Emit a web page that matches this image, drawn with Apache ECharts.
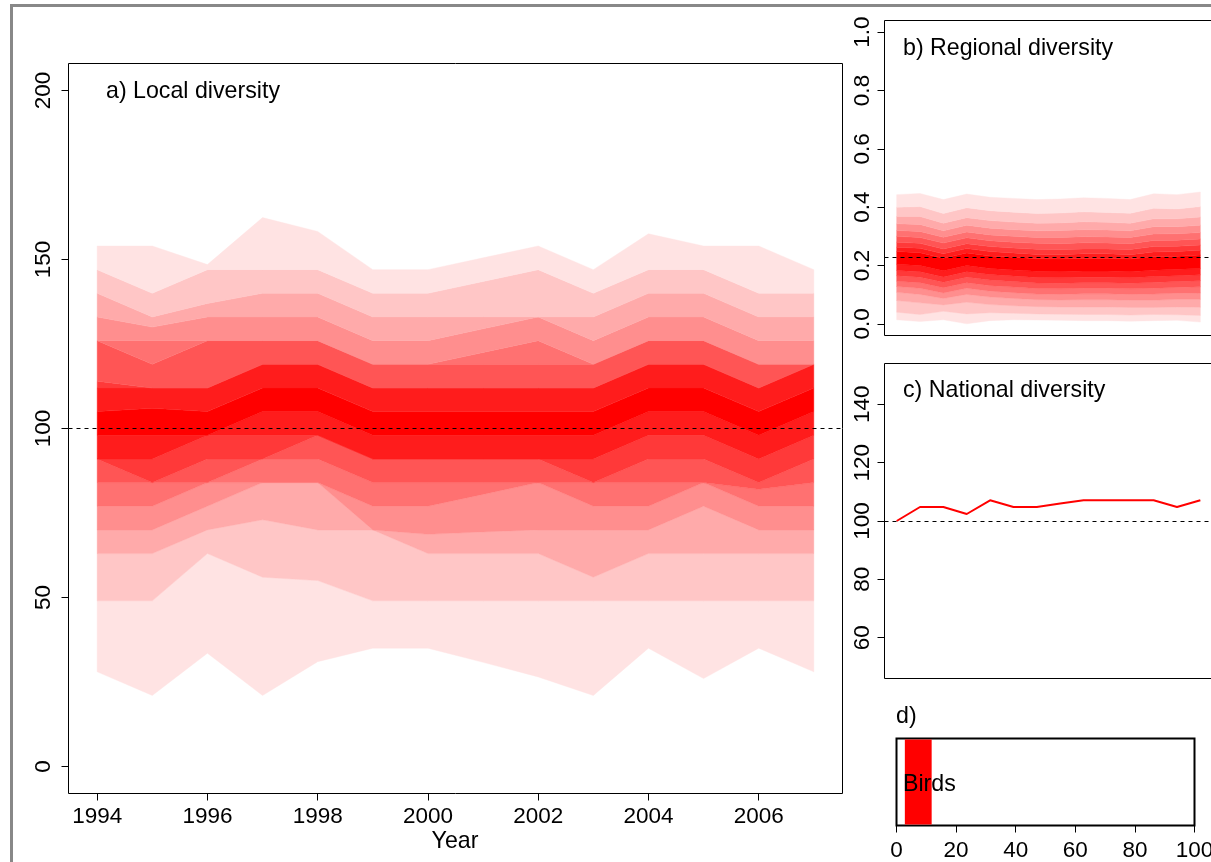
<!DOCTYPE html>
<html><head><meta charset="utf-8">
<script src="https://cdn.jsdelivr.net/npm/echarts@6/dist/echarts.min.js"></script>
<style>html,body{margin:0;padding:0;background:#fff}#c{width:1211px;height:862px}</style>
</head><body><div id="c"></div>
<script>
const years = [1994,1995,1996,1997,1998,1999,2000,2001,2002,2003,2004,2005,2006,2007];

// a) Local diversity: quantile lines from lowest (q01) to highest (q18)
const local_q01 = [28, 21, 33.5, 21, 31, 35, 35, 30.8, 26.5, 21, 35, 26, 35, 28];
const local_q02 = [49, 49, 63, 56, 55, 49, 49, 49, 49, 49, 49, 49, 49, 49];
const local_q03 = [63, 63, 70, 73, 70, 70, 63, 63, 63, 56, 63, 63, 63, 63];
const local_q04 = [70, 70, 77, 84, 84, 70, 68.7, 69.4, 70, 70, 70, 77, 70, 70];
const local_q05 = [77, 77, 84, 84, 84, 77, 77, 80.5, 84, 77, 77, 84, 77, 77];
const local_q06 = [84, 84, 84, 91, 91, 84, 84, 84, 84, 84, 84, 84, 82, 84];
const local_q07 = [91, 84, 91, 91, 98, 91, 91, 91, 91, 84, 91, 91, 84, 91];
const local_q08 = [91, 91, 98, 98, 98, 91, 91, 91, 91, 91, 98, 98, 91, 98];
const local_q09 = [98, 98, 98, 105, 105, 98, 98, 98, 98, 98, 105, 105, 98, 105];
const local_q10 = [105, 106, 105, 112, 112, 105, 105, 105, 105, 105, 112, 112, 105, 112];
const local_q11 = [112, 112, 112, 119, 119, 112, 112, 112, 112, 112, 119, 119, 112, 119];
const local_q12 = [114, 112, 112, 119, 119, 112, 112, 112, 112, 112, 119, 119, 112, 119];
const local_q13 = [126, 119, 126, 126, 126, 119, 119, 119, 119, 119, 126, 126, 119, 119];
const local_q14 = [126, 126, 126, 126, 126, 119, 119, 122.5, 126, 119, 126, 126, 119, 119];
const local_q15 = [133, 130, 133, 133, 133, 126, 126, 129.5, 133, 126, 133, 133, 126, 126];
const local_q16 = [140, 133, 137, 140, 140, 133, 133, 133, 133, 133, 140, 140, 133, 133];
const local_q17 = [147, 140, 147, 147, 147, 140, 140, 143.5, 147, 140, 147, 147, 140, 140];
const local_q18 = [154, 154, 148.5, 162.4, 158.3, 147, 147, 150.5, 154, 147, 157.6, 154, 154, 147];

// b) Regional diversity quantile lines
const reg_q01 = [0.014, 0.008, 0.014, 0.000, 0.011, 0.014, 0.013, 0.012, 0.011, 0.011, 0.009, 0.011, 0.012, 0.006];
const reg_q02 = [0.040, 0.032, 0.043, 0.034, 0.038, 0.036, 0.034, 0.033, 0.032, 0.032, 0.030, 0.032, 0.031, 0.029];
const reg_q03 = [0.080, 0.072, 0.065, 0.074, 0.066, 0.062, 0.059, 0.058, 0.058, 0.058, 0.056, 0.056, 0.058, 0.057];
const reg_q04 = [0.108, 0.101, 0.087, 0.101, 0.092, 0.087, 0.083, 0.082, 0.083, 0.083, 0.081, 0.081, 0.084, 0.084];
const reg_q05 = [0.128, 0.122, 0.106, 0.122, 0.112, 0.107, 0.102, 0.101, 0.103, 0.103, 0.101, 0.102, 0.105, 0.106];
const reg_q06 = [0.146, 0.141, 0.124, 0.141, 0.131, 0.126, 0.121, 0.120, 0.122, 0.122, 0.120, 0.122, 0.125, 0.127];
const reg_q07 = [0.165, 0.160, 0.143, 0.160, 0.150, 0.145, 0.140, 0.139, 0.141, 0.141, 0.139, 0.142, 0.145, 0.148];
const reg_q08 = [0.183, 0.179, 0.161, 0.179, 0.169, 0.164, 0.159, 0.158, 0.160, 0.160, 0.158, 0.162, 0.165, 0.168];
const reg_q09 = [0.204, 0.200, 0.182, 0.200, 0.190, 0.185, 0.180, 0.179, 0.181, 0.181, 0.179, 0.184, 0.187, 0.190];
const reg_q10 = [0.248, 0.244, 0.225, 0.243, 0.233, 0.228, 0.223, 0.222, 0.224, 0.224, 0.222, 0.230, 0.232, 0.236];
const reg_q11 = [0.263, 0.259, 0.240, 0.258, 0.248, 0.243, 0.238, 0.237, 0.240, 0.240, 0.237, 0.246, 0.248, 0.252];
const reg_q12 = [0.280, 0.276, 0.257, 0.275, 0.265, 0.260, 0.256, 0.255, 0.257, 0.257, 0.255, 0.265, 0.266, 0.270];
const reg_q13 = [0.300, 0.296, 0.277, 0.295, 0.285, 0.280, 0.276, 0.275, 0.278, 0.277, 0.275, 0.286, 0.287, 0.291];
const reg_q14 = [0.320, 0.317, 0.297, 0.315, 0.305, 0.300, 0.296, 0.296, 0.299, 0.298, 0.296, 0.308, 0.309, 0.313];
const reg_q15 = [0.343, 0.341, 0.319, 0.338, 0.328, 0.323, 0.319, 0.320, 0.323, 0.322, 0.319, 0.333, 0.333, 0.338];
const reg_q16 = [0.368, 0.368, 0.345, 0.364, 0.354, 0.349, 0.345, 0.346, 0.350, 0.348, 0.345, 0.360, 0.360, 0.366];
const reg_q17 = [0.400, 0.402, 0.378, 0.398, 0.388, 0.383, 0.378, 0.380, 0.384, 0.382, 0.379, 0.396, 0.394, 0.402];
const reg_q18 = [0.443, 0.447, 0.426, 0.445, 0.434, 0.430, 0.426, 0.428, 0.432, 0.430, 0.426, 0.446, 0.443, 0.452];

// c) National diversity
const nationalIndex = [100, 104.8, 104.8, 102.4, 107.1, 104.8, 104.8, 106, 107.1, 107.1, 107.1, 107.1, 104.8, 107.1];

// d) taxa bar
const dCategories = ['Birds'];
const dStart = [2.8];
const dEnd = [11.8];

// baselines (dashed)
const localBaseline = 100;
const regionalBaseline = 0.229;
const nationalBaseline = 100;

// tick labels
const yearTicks = [1994, 1996, 1998, 2000, 2002, 2004, 2006];
const localTicks = [0, 50, 100, 150, 200];
const regionalTicks = [0, 0.2, 0.4, 0.6, 0.8, 1.0];
const nationalTicks = [60, 80, 100, 120, 140];

const localLines = [local_q01,local_q02,local_q03,local_q04,local_q05,local_q06,local_q07,local_q08,local_q09,
  local_q10,local_q11,local_q12,local_q13,local_q14,local_q15,local_q16,local_q17,local_q18];
const regionalLines = [reg_q01,reg_q02,reg_q03,reg_q04,reg_q05,reg_q06,reg_q07,reg_q08,reg_q09,
  reg_q10,reg_q11,reg_q12,reg_q13,reg_q14,reg_q15,reg_q16,reg_q17,reg_q18];

const shades = ['#FFE3E3','#FFC6C6','#FFAAAA','#FF8E8E','#FF7171','#FF5555','#FF3939','#FF1C1C','#FF0000'];
const fanColors = shades.concat(shades.slice(0, 8).reverse());

const FONT = '"Liberation Sans", Arial, Helvetica, sans-serif';
const tickStyle = { color: '#000', width: 1 };
const dashed = (v) => ({
  silent: true, symbol: ['none','none'], label: { show: false },
  lineStyle: { color: '#000', type: [4, 4], width: 1 },
  data: [{ yAxis: v }], animation: false
});

// one custom series per fan: each data item is a band between two neighbouring quantile lines
function fanSeries(lines, axisIdx, baseline) {
  const bands = [];
  for (let k = 0; k < lines.length - 1; k++) bands.push([years[0], lines[k][0], k]);
  return {
    type: 'custom', xAxisIndex: axisIdx, yAxisIndex: axisIdx, silent: true, animation: false,
    clip: true, z: 2,
    encode: { x: 0, y: 1 },
    data: bands,
    renderItem: function (params, api) {
      const k = api.value(2);
      const lo = lines[k], hi = lines[k + 1];
      const pts = [];
      for (let i = 0; i < years.length; i++) pts.push(api.coord([years[i], hi[i]]));
      for (let i = years.length - 1; i >= 0; i--) pts.push(api.coord([years[i], lo[i]]));
      return {
        type: 'polygon',
        shape: { points: pts },
        style: { fill: fanColors[k], stroke: fanColors[k], lineWidth: 0.4 }
      };
    },
    markLine: dashed(baseline)
  };
}

const chart = echarts.init(document.getElementById('c'), null, { renderer: 'canvas' });

const gridBase = { show: true, borderColor: '#000', borderWidth: 1, backgroundColor: 'transparent', containLabel: false, outerBoundsMode: 'none' };
const noLine = { show: false, onZero: false };

const option = {
  animation: false,
  backgroundColor: '#fff',
  textStyle: { fontFamily: FONT },
  grid: [
    Object.assign({}, gridBase, { left: 68.5, top: 63.5, width: 774, height: 730 }),
    Object.assign({}, gridBase, { left: 884.5, top: 20.5, width: 328, height: 315 }),
    Object.assign({}, gridBase, { left: 884.5, top: 363.5, width: 328, height: 315 }),
    Object.assign({}, gridBase, { left: 896.5, top: 738.5, width: 298, height: 87, borderWidth: 2 })
  ],
  xAxis: [
    { type: 'value', gridIndex: 0, min: 1993.48, max: 2007.52,
      axisLine: noLine, splitLine: { show: false },
      axisTick: { show: true, length: 7, lineStyle: tickStyle, customValues: yearTicks },
      axisLabel: { customValues: yearTicks, fontSize: 22.5, color: '#000', fontFamily: FONT, margin: 12, formatter: v => String(v) } },
    { type: 'value', gridIndex: 1, min: 1993.48, max: 2007.52, show: false, axisLine: noLine, splitLine: { show: false } },
    { type: 'value', gridIndex: 2, min: 1993.48, max: 2007.52, show: false, axisLine: noLine, splitLine: { show: false } },
    { type: 'value', gridIndex: 3, min: 0, max: 100, interval: 20,
      axisLine: noLine, splitLine: { show: false },
      axisTick: { show: true, length: 7, lineStyle: tickStyle },
      axisLabel: { fontSize: 22.5, color: '#000', fontFamily: FONT, margin: 13.5, formatter: v => String(v) } }
  ],
  yAxis: [
    { type: 'value', gridIndex: 0, min: -8, max: 208,
      axisLine: noLine, splitLine: { show: false },
      axisTick: { show: true, length: 7, lineStyle: tickStyle, customValues: localTicks },
      axisLabel: { customValues: localTicks, rotate: 90, fontSize: 22.5, color: '#000', fontFamily: FONT, margin: 13, formatter: v => String(v) } },
    { type: 'value', gridIndex: 1, min: -0.04, max: 1.04,
      axisLine: noLine, splitLine: { show: false },
      axisTick: { show: true, length: 7, lineStyle: tickStyle, customValues: regionalTicks },
      axisLabel: { customValues: regionalTicks, rotate: 90, fontSize: 22.5, color: '#000', fontFamily: FONT, margin: 10, formatter: v => v.toFixed(1) } },
    { type: 'value', gridIndex: 2, min: 46, max: 154,
      axisLine: noLine, splitLine: { show: false },
      axisTick: { show: true, length: 7, lineStyle: tickStyle, customValues: nationalTicks },
      axisLabel: { customValues: nationalTicks, rotate: 90, fontSize: 22.5, color: '#000', fontFamily: FONT, margin: 10, formatter: v => String(v) } },
    { type: 'category', gridIndex: 3, data: dCategories, show: false, axisLine: noLine }
  ],
  series: [
    fanSeries(localLines, 0, localBaseline),
    fanSeries(regionalLines, 1, regionalBaseline),
    {
      type: 'line', xAxisIndex: 2, yAxisIndex: 2, symbol: 'none', showSymbol: false, silent: true, animation: false,
      lineStyle: { color: '#FF0000', width: 2 },
      data: years.map((y, i) => [y, nationalIndex[i]]),
      markLine: dashed(nationalBaseline)
    },
    {
      type: 'bar', xAxisIndex: 3, yAxisIndex: 3, stack: 'taxa', silent: true, animation: false,
      barWidth: 85, itemStyle: { color: 'rgba(0,0,0,0)' },
      data: dStart
    },
    {
      type: 'bar', xAxisIndex: 3, yAxisIndex: 3, stack: 'taxa', silent: true, animation: false,
      barWidth: 85, itemStyle: { color: '#FF0000' },
      data: dEnd.map((e, i) => e - dStart[i])
    }
  ],
  graphic: [
    { type: 'rect', silent: true, z: 100, shape: { x: 11.5, y: 5.5, width: 1400, height: 1000 },
      style: { fill: 'none', stroke: '#888', lineWidth: 3 } },
    { type: 'text', x: 106, y: 92, z: 100, style: { text: 'a) Local diversity', fontSize: 23.2, fontFamily: FONT, fill: '#000', verticalAlign: 'middle', align: 'left' } },
    { type: 'text', x: 903, y: 48.5, z: 100, style: { text: 'b) Regional diversity', fontSize: 23.2, fontFamily: FONT, fill: '#000', verticalAlign: 'middle', align: 'left' } },
    { type: 'text', x: 903, y: 390.5, z: 100, style: { text: 'c) National diversity', fontSize: 23.2, fontFamily: FONT, fill: '#000', verticalAlign: 'middle', align: 'left' } },
    { type: 'text', x: 896, y: 717, z: 100, style: { text: 'd)', fontSize: 23.2, fontFamily: FONT, fill: '#000', verticalAlign: 'middle', align: 'left' } },
    { type: 'text', x: 903, y: 784.5, z: 100, style: { text: dCategories[0], fontSize: 23.2, fontFamily: FONT, fill: '#000', verticalAlign: 'middle', align: 'left' } },
    { type: 'text', x: 455, y: 841.5, z: 100, style: { text: 'Year', fontSize: 23.2, fontFamily: FONT, fill: '#000', verticalAlign: 'middle', align: 'center' } }
  ]
};
chart.setOption(option);
</script>
</body></html>
